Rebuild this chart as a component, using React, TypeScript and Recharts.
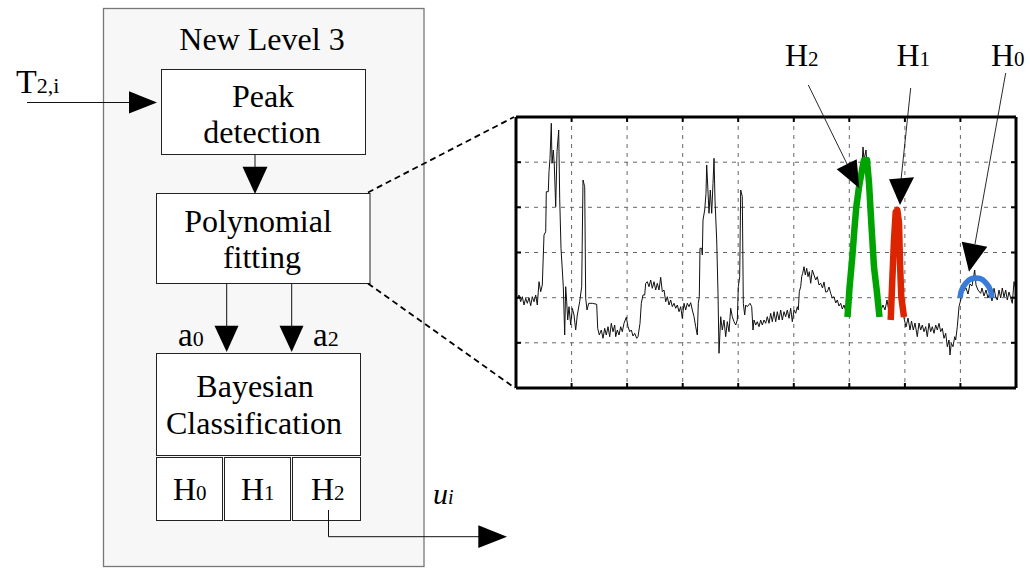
import React from 'react';
import { LineChart, Line, XAxis, YAxis, CartesianGrid } from 'recharts';

// Measured signal: [time, level]
const traceSamples: [number, number][] = [
  [0,88],[1.3,89.7],[3,93],[4.7,86.3],[6.3,91.3],[8,83],[9.7,89.7],[11.3,84.7],[13,90.3],[14.7,82.3],[16.3,91.3],[18,86.3],[19.7,93],[21.3,83],[23,106.3],[24.7,96.3],[26.3,103],[28,153],[29.7,156.3],[30.3,196.3],[32.3,196.3],[33,216.3],[34,229.7],[35.3,264.7],[36,224.7],[37.3,238],[38.3,223],[39.7,181.3],[41,236.3],[42.7,258],[43.7,189.7],[45,139.7],[47.3,101.3],[48.7,53],[49.7,101.3],[50.7,86.3],[51.7,68],[53,81.3],[54.7,63],[56.3,79.7],[58,73],[59.7,58],[61.3,73],[63.7,86.3],[65.7,101.3],[67,208],[68.7,201.3],[69.7,89.7],[71,78],[72.7,84.7],[76.3,84.7],[80.7,83.7],[81.7,59.7],[83.3,53],[85.3,58],[87,49.7],[88.7,59.7],[90.3,53],[92,61.3],[93.7,51.3],[95.3,64.7],[97,56.3],[98.7,63],[99.7,51.3],[101.3,58],[103,53],[104.7,61.3],[106.3,56.3],[108,64.7],[110.3,70.7],[112,61.3],[113.7,56.3],[115.3,58],[117,52],[118.7,54.7],[120.7,49.7],[122,51.3],[124,64.7],[125.3,84.7],[127,93],[128.7,93],[129.7,104.7],[131.3,106.3],[133,101.3],[134.7,108],[136.3,99.7],[138,106.3],[139.7,98],[141.3,104.7],[143,98],[144.7,110.7],[146.3,96.3],[148,98],[149.7,86.3],[151.3,91.3],[153,83],[154.7,88],[156.3,81.3],[158,84.7],[159.7,79.7],[161.3,83],[163,76.3],[164.7,81.3],[166.3,69.7],[168,84.7],[169.7,78],[171.3,84.7],[173,81.3],[174.7,85.3],[176.3,78],[178,71.3],[179.7,61.3],[181.3,53],[182.3,84.7],[183.3,91.3],[184,139.7],[185.7,139.7],[186.3,133],[187,168],[188.7,178],[190,194.7],[190.7,223],[191.7,203],[193,174.7],[194.3,198],[195.7,174.7],[197,204.7],[198,229.7],[199,188],[200.7,148],[202,94.7],[203,34.7],[204.7,71.3],[206.3,58],[208,68],[209.7,51.3],[211.3,66.3],[213,56.3],[214.7,79.7],[216.3,71.3],[218,66.3],[219.7,63],[221.3,68],[222.3,101.3],[223.7,111.3],[224.7,198],[226.3,191.3],[227.3,84.7],[228.7,73],[229.7,83],[231.3,81.3],[234,84.7],[235.7,81.3],[237,58],[238,68],[239.7,63],[241.3,66.3],[243,61.3],[244.7,68],[246.3,63],[248,68],[249.7,64.7],[251.3,71.3],[253,64.7],[254.7,74.7],[256.3,66.3],[258,76.3],[259.7,66.3],[261.3,76.3],[263,68],[264.7,78],[266.3,68],[268,76.3],[269.7,71.3],[271.3,78],[273,69.7],[274.7,79.7],[276.3,66.3],[278,78],[279.7,74.7],[281.3,81.3],[282.3,78],[283.3,96.3],[284.7,101.3],[285.7,111.3],[286.7,114.7],[288,121.3],[289.3,113],[290.7,119.7],[292,111.3],[293.3,116.3],[294.7,104.7],[296.3,118],[298,113],[299.7,108],[301.3,111.3],[303,103],[304.7,104.7],[306.5,100],[308,106],[309.7,96],[311.3,96.3],[313,101],[314.7,94.7],[316.3,90],[318,91.3],[319.7,85],[321.3,88],[323,82],[324.7,84.7],[326.3,79],[328,83],[330,76],[332,88],[334,108],[336,133],[338,153],[340,188],[342,203],[344,213],[346,223],[347,241],[348,228],[350,238],[351,223],[353,203],[355,173],[357,148],[359,123],[361,103],[363,88],[365,78],[367,83],[369,78],[371,88],[373,76],[375,73],[377,113],[378,153],[380,176],[382,163],[384,128],[386,88],[388,70],[390,61],[392,70],[394,58],[395.5,67],[397.3,58],[399,65],[401.3,51.3],[403,65],[404.7,58],[406.3,63],[408,56.3],[409.7,61.3],[411.3,51.3],[413,64.7],[414.7,56.3],[416.3,61.3],[418,54.7],[419.7,63],[421.3,58],[423,64.7],[424.7,56.3],[426.3,59.7],[428,49.7],[429.7,54.7],[431.3,41.3],[433,48],[434,33],[435.3,44.7],[437,41.3],[438.7,51.3],[439.7,48],[441.3,61.3],[443,81.3],[444.7,88],[447,96],[450,100],[452,94],[454,104],[456,102],[458.7,118],[460,103],[462,98],[464.7,94.7],[466,100],[468,92],[470,98],[472,90],[474,96],[476,87],[478,99.7],[479.7,91],[481.3,88],[483,98],[484.7,90],[486.3,100],[488,91],[489.7,98],[491.3,88],[493,96],[494.7,90],[496.3,84.7],[498,106.3],[500,98]
];

// Polynomial fits per class
const fitH2: [number, number][] = [[331.5,71],[333.5,100],[336.3,131],[338.5,160],[340.3,181],[343,201],[346,218],[348,228],[351,228],[353,205],[355.3,165],[358,121],[360.7,98],[363.5,71]];
const fitH1: [number, number][] = [[374.7,68],[376.3,108],[378,148],[379.7,176],[381.3,178],[383,165],[384,125],[385.3,91],[388,71]];
const fitH0: [number, number][] = [[444,90],[445,96],[447,101],[450,105],[453,108],[456,109.5],[460,110],[464,109.5],[467,108],[470,105],[473,101],[475,96],[476,90]];

const xTicks = [0, 55.6, 111.1, 166.7, 222.2, 277.8, 333.3, 388.9, 444.4, 500];
const yTicks = [0, 45.2, 90.3, 135.5, 180.7, 225.8, 271];

const toRows = (pairs: [number, number][]) => pairs.map(([t, v]) => ({ t, v }));

const FONT = '"Liberation Serif", "Times New Roman", serif';
const blank = () => '';

const Diagram = () => (
  <svg width={1030} height={568} style={{ position: 'absolute', left: 0, top: 0, pointerEvents: 'none' }} fontFamily={FONT}>
    {/* outer box */}
    <rect x={103.5} y={8.5} width={320.5} height={558} fill="#f7f7f7" stroke="#777" strokeWidth={1.3} />
    <text x={262} y={50} fontSize={32} textAnchor="middle">New Level 3</text>

    {/* Peak detection */}
    <rect x={161.5} y={69.5} width={204} height={85} fill="#fff" stroke="#222" strokeWidth={1} />
    <text x={263} y={107} fontSize={32} textAnchor="middle">Peak</text>
    <text x={262} y={143} fontSize={32} textAnchor="middle">detection</text>

    {/* Input */}
    <text x={16} y={93} fontSize={34}>T<tspan fontSize={22}>2,i</tspan></text>
    <line x1={27} y1={102.5} x2={131} y2={102.5} stroke="#111" strokeWidth={1} />
    <polygon points="129,91.3 129,113.5 157,102.5" fill="#000" />

    {/* Peak -> Poly */}
    <line x1={255} y1={154.5} x2={255} y2={168} stroke="#111" strokeWidth={1} />
    <polygon points="242.5,166.7 267.5,166.7 255,194" fill="#000" />

    {/* Polynomial fitting */}
    <rect x={156.5} y={193.5} width={213.5} height={90} fill="#fff" stroke="#222" strokeWidth={1} />
    <text x={258} y={232} fontSize={32} textAnchor="middle">Polynomial</text>
    <text x={262} y={268} fontSize={32} textAnchor="middle">fitting</text>

    {/* a0, a2 arrows */}
    <line x1={226.7} y1={283.5} x2={226.7} y2={328} stroke="#111" strokeWidth={1} />
    <polygon points="214.5,325.7 238.5,325.7 226.7,352" fill="#000" />
    <line x1={291.7} y1={283.5} x2={291.7} y2={328} stroke="#111" strokeWidth={1} />
    <polygon points="279.5,325.7 303.5,325.7 291.7,352" fill="#000" />
    <text x={178} y={345.5} fontSize={33}>a<tspan fontSize={22}>0</tspan></text>
    <text x={313} y={345.5} fontSize={33}>a<tspan fontSize={22}>2</tspan></text>

    {/* Bayesian */}
    <rect x={156.5} y={353.5} width={204} height={102} fill="#fff" stroke="#222" strokeWidth={1} />
    <text x={255} y={397} fontSize={32} textAnchor="middle">Bayesian</text>
    <text x={254} y={434} fontSize={32} textAnchor="middle">Classification</text>

    <rect x={156.5} y={457.5} width={66} height={63} fill="#fff" stroke="#222" strokeWidth={1} />
    <rect x={224.5} y={457.5} width={66} height={63} fill="#fff" stroke="#222" strokeWidth={1} />
    <rect x={292.5} y={457.5} width={68} height={63} fill="#fff" stroke="#222" strokeWidth={1} />
    <text x={173} y={500} fontSize={32}>H<tspan fontSize={21}>0</tspan></text>
    <text x={241} y={500} fontSize={32}>H<tspan fontSize={21}>1</tspan></text>
    <text x={311} y={500} fontSize={32}>H<tspan fontSize={21}>2</tspan></text>

    {/* output */}
    <polyline points="328.5,510 328.5,536.7 480,536.7" fill="none" stroke="#111" strokeWidth={1} />
    <polygon points="478.3,525.3 478.3,548 507,536.7" fill="#000" />
    <text x={433} y={504} fontSize={30} fontStyle="italic">u<tspan fontSize={20}>i</tspan></text>

    {/* zoom lines */}
    <line x1={368} y1={192.5} x2={514} y2={117} stroke="#000" strokeWidth={1.8} strokeDasharray="6 4" />
    <line x1={368} y1={283.5} x2={515} y2={388} stroke="#000" strokeWidth={1.8} strokeDasharray="6 4" />

    {/* class annotations */}
    <text x={785} y={66} fontSize={32}>H<tspan fontSize={21}>2</tspan></text>
    <text x={896.5} y={66} fontSize={32}>H<tspan fontSize={21}>1</tspan></text>
    <text x={991} y={66} fontSize={32}>H<tspan fontSize={21}>0</tspan></text>
    <line x1={808.3} y1={85} x2={848} y2={166} stroke="#111" strokeWidth={0.9} />
    <polygon points="836.7,169.3 856.7,159.3 859.3,188.3" fill="#000" />
    <line x1={910.7} y1={88} x2={901} y2={180} stroke="#111" strokeWidth={0.9} />
    <polygon points="889,179.3 914,177.3 900,205" fill="#000" />
    <line x1={1005.7} y1={73} x2={975} y2={244} stroke="#111" strokeWidth={0.9} />
    <polygon points="961.7,241.7 987.3,246.7 969,271.7" fill="#000" />
  </svg>
);

export default function App() {
  const trace = toRows(traceSamples);
  const h2 = toRows(fitH2);
  const h1 = toRows(fitH1);
  const h0 = toRows(fitH0);
  const axisLine = { stroke: '#000', strokeWidth: 3 };
  const tickLine = { stroke: '#000', strokeWidth: 2 };
  return (
    <div style={{ position: 'absolute', left: 0, top: 0, width: 1030, height: 568, background: '#fff', overflow: 'hidden' }}>
      <div style={{ position: 'absolute', left: 0, top: 0 }}>
        <LineChart width={1030} height={568} margin={{ top: 117, right: 14, bottom: 180, left: 516 }}>
          <CartesianGrid xAxisId="bottom" yAxisId="left" strokeDasharray="4 5" stroke="#666" strokeWidth={1} />
          <XAxis xAxisId="bottom" orientation="bottom" type="number" dataKey="t" domain={[0, 500]} ticks={xTicks} allowDataOverflow height={30} mirror
            axisLine={axisLine} tickLine={tickLine} tickSize={5} tickFormatter={blank} />
          <XAxis xAxisId="top" orientation="top" type="number" dataKey="t" domain={[0, 500]} ticks={xTicks} allowDataOverflow height={30} mirror
            axisLine={axisLine} tickLine={tickLine} tickSize={5} tickFormatter={blank} />
          <YAxis yAxisId="left" orientation="left" type="number" domain={[0, 271]} ticks={yTicks} allowDataOverflow width={60} mirror
            axisLine={axisLine} tickLine={tickLine} tickSize={5} tickFormatter={blank} />
          <YAxis yAxisId="right" orientation="right" type="number" domain={[0, 271]} ticks={yTicks} allowDataOverflow width={14} mirror
            axisLine={axisLine} tickLine={tickLine} tickSize={5} tickFormatter={blank} />
          <Line xAxisId="bottom" yAxisId="left" data={trace} dataKey="v" type="linear" stroke="#111" strokeWidth={1} dot={false} isAnimationActive={false} />
          <Line xAxisId="bottom" yAxisId="left" data={h2} dataKey="v" type="linear" stroke="#00a400" strokeWidth={6.5} strokeLinejoin="round" dot={false} isAnimationActive={false} />
          <Line xAxisId="bottom" yAxisId="left" data={h1} dataKey="v" type="linear" stroke="#dc2400" strokeWidth={6.5} strokeLinejoin="round" dot={false} isAnimationActive={false} />
          <Line xAxisId="bottom" yAxisId="left" data={h0} dataKey="v" type="linear" stroke="#3b7bd8" strokeWidth={5.5} strokeLinejoin="round" dot={false} isAnimationActive={false} />
        </LineChart>
      </div>
      <Diagram />
    </div>
  );
}
